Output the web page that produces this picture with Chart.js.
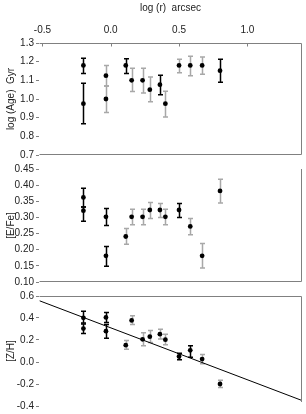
<!DOCTYPE html>
<html lang="en">
<head>
<meta charset="UTF-8">
<title>Radial profiles</title>
<script src="https://cdn.jsdelivr.net/npm/chart.js"></script>
<style>
  body { margin: 0; background: #fff; }
  #wrap { position: relative; width: 306px; height: 414px; overflow: hidden; }
  canvas { position: absolute; left: 0; }
</style>
</head>
<body>
<div id="wrap">
  <canvas id="agePanel" width="306" height="165" style="top:0"></canvas>
  <canvas id="efePanel" width="306" height="135" style="top:158px"></canvas>
  <canvas id="zhPanel" width="306" height="128" style="top:286px"></canvas>
</div>
<script>
// radius (log arcsec), shared by the three panels
const logR = [-0.20, -0.20, -0.035, -0.035, 0.11, 0.153, 0.233, 0.286, 0.36, 0.40, 0.50, 0.582, 0.669, 0.80];
const xTicks = [-0.5, 0.0, 0.5, 1.0];

// log(Age) Gyr
const ageVal = [1.18, 0.975, 1.125, 1.00, 1.18, 1.10, 1.10, 1.05, 1.077, 0.975, 1.18, 1.18, 1.18, 1.152];
const ageHi  = [1.218, 1.084, 1.18, 1.07, 1.215, 1.165, 1.165, 1.118, 1.127, 1.041, 1.213, 1.229, 1.225, 1.213];
const ageLo  = [1.137, 0.867, 1.07, 0.928, 1.137, 1.04, 1.032, 0.985, 1.023, 0.903, 1.14, 1.125, 1.132, 1.09];
const ageBar = ['k','k','g','g','k','g','g','g','k','g','g','g','g','k'];
const ageTicks = [0.7, 0.8, 0.9, 1.0, 1.1, 1.2, 1.3];

// [E/Fe]
const efeVal = [0.362, 0.321, 0.302, 0.181, 0.241, 0.302, 0.302, 0.323, 0.323, 0.302, 0.323, 0.272, 0.181, 0.382];
const efeHi  = [0.39, 0.332, 0.328, 0.21, 0.266, 0.325, 0.325, 0.346, 0.343, 0.325, 0.343, 0.297, 0.219, 0.418];
const efeLo  = [0.332, 0.288, 0.275, 0.149, 0.217, 0.277, 0.277, 0.297, 0.30, 0.277, 0.30, 0.246, 0.143, 0.345];
const efeBar = ['k','k','k','k','g','g','g','g','g','g','k','g','g','g'];
const efeTicks = [0.10, 0.15, 0.20, 0.25, 0.30, 0.35, 0.40, 0.45];

// [Z/H] and its linear fit
const zhVal = [0.402, 0.304, 0.405, 0.28, 0.153, 0.378, 0.206, 0.23, 0.253, 0.203, 0.05, 0.106, 0.027, -0.2];
const zhHi  = [0.461, 0.345, 0.449, 0.34, 0.195, 0.42, 0.266, 0.286, 0.298, 0.253, 0.08, 0.147, 0.068, -0.167];
const zhLo  = [0.355, 0.26, 0.36, 0.215, 0.117, 0.342, 0.147, 0.177, 0.209, 0.156, 0.02, 0.044, -0.015, -0.232];
const zhBar = ['k','k','k','k','g','g','g','g','g','g','k','k','g','g'];
const zhTicks = [-0.4, -0.2, 0.0, 0.2, 0.4, 0.6];
const fitX = [-0.52, 1.40];
const fitY = [0.556, -0.35];

const barColors = { k: '#000000', g: '#a8a8a8' };
const font = { family: 'Liberation Sans, Arial, sans-serif', size: 10 };
const textColor = '#222';
const frameColor = '#808080';

function errorBars(lo, hi, cols) {
    return {
        id: 'errorBars',
        beforeDatasetsDraw(chart) {
            const ctx = chart.ctx, xs = chart.scales.x, ys = chart.scales.y;
            ctx.save();
            ctx.lineWidth = 1.5;
            lo.forEach((l, i) => {
                const px = Math.round(xs.getPixelForValue(logR[i])) + 0.5;
                const top = ys.getPixelForValue(hi[i]);
                const bot = ys.getPixelForValue(l);
                ctx.strokeStyle = barColors[cols[i]];
                ctx.beginPath();
                ctx.moveTo(px, top); ctx.lineTo(px, bot);
                ctx.moveTo(px - 2.5, top); ctx.lineTo(px + 2.5, top);
                ctx.moveTo(px - 2.5, bot); ctx.lineTo(px + 2.5, bot);
                ctx.stroke();
            });
            ctx.restore();
        }
    };
}

function frame(sides) {
    return {
        id: 'frame',
        afterDraw(chart) {
            const ctx = chart.ctx, a = chart.chartArea;
            const l = Math.round(a.left) + 0.5, r = Math.round(a.right) - 0.5;
            const t = Math.round(a.top) + 0.5, b = Math.round(a.bottom) - 0.5;
            ctx.save();
            ctx.strokeStyle = frameColor;
            ctx.lineWidth = 1;
            ctx.beginPath();
            if (sides.top) { ctx.moveTo(l, t); ctx.lineTo(r, t); }
            if (sides.bottom) { ctx.moveTo(l, b); ctx.lineTo(r, b); }
            ctx.moveTo(r, sides.top ? t : a.top); ctx.lineTo(r, sides.bottom ? b : a.bottom - 4);
            if (sides.xticks) {
                xTicks.forEach(v => {
                    const px = Math.round(chart.scales.x.getPixelForValue(v)) + 0.5;
                    if (px > l + 2) { ctx.moveTo(px, t); ctx.lineTo(px, t + 3); }
                });
            }
            ctx.stroke();
            ctx.restore();
        }
    };
}

function makePanel(id, opt) {
    const datasets = [{
        data: logR.map((x, i) => ({ x: x, y: opt.values[i] })),
        pointRadius: 2.4,
        pointBackgroundColor: '#000',
        pointBorderWidth: 0
    }];
    if (opt.fit) {
        datasets.push({
            type: 'line',
            data: fitX.map((x, i) => ({ x: x, y: fitY[i] })),
            borderColor: '#000',
            borderWidth: 1,
            pointRadius: 0,
            fill: false
        });
    }
    return new Chart(document.getElementById(id), {
        type: 'scatter',
        data: { datasets: datasets },
        options: {
            responsive: false,
            animation: false,
            devicePixelRatio: 1,
            layout: { padding: opt.padding },
            plugins: { legend: { display: false }, tooltip: { enabled: false } },
            scales: {
                x: {
                    type: 'linear',
                    position: 'top',
                    display: opt.showX,
                    min: -0.525,
                    max: 1.40,
                    afterFit: s => { if (opt.showX) s.height = 43; },
                    afterBuildTicks: s => { s.ticks = xTicks.map(v => ({ value: v })); },
                    ticks: { callback: v => v.toFixed(1), padding: 7, maxRotation: 0, autoSkip: false, font: font, color: textColor },
                    grid: { display: false, drawTicks: false },
                    border: { display: false },
                    title: { display: true, text: 'log (r)  arcsec', font: font, color: textColor, padding: { top: 2, bottom: 0 } }
                },
                y: {
                    min: opt.ticks[0],
                    max: opt.ticks[opt.ticks.length - 1],
                    afterFit: s => { s.width = 39; },
                    afterBuildTicks: s => { s.ticks = opt.ticks.map(v => ({ value: v })); },
                    ticks: { callback: v => v.toFixed(opt.dec), padding: 2, autoSkip: false, font: font, color: textColor },
                    grid: { drawOnChartArea: false, tickLength: 3, color: frameColor },
                    border: { display: false },
                    title: { display: true, text: opt.title, font: font, color: textColor, padding: { top: 5, bottom: 0 } }
                }
            }
        },
        plugins: [errorBars(opt.lo, opt.hi, opt.bars), frame(opt.frame)]
    });
}

makePanel('agePanel', {
    values: ageVal, lo: ageLo, hi: ageHi, bars: ageBar, ticks: ageTicks, dec: 1,
    title: 'log (Age)  Gyr', showX: true,
    padding: { top: 0, right: 1, bottom: 10, left: 0 },
    frame: { top: true, bottom: true, xticks: true }
});
makePanel('efePanel', {
    values: efeVal, lo: efeLo, hi: efeHi, bars: efeBar, ticks: efeTicks, dec: 2,
    title: '[E/Fe]', showX: false,
    padding: { top: 11, right: 1, bottom: 11, left: 0 },
    frame: { top: false, bottom: true }
});
makePanel('zhPanel', {
    values: zhVal, lo: zhLo, hi: zhHi, bars: zhBar, ticks: zhTicks, dec: 1,
    title: '[Z/H]', showX: false, fit: true,
    padding: { top: 10, right: 1, bottom: 6, left: 0 },
    frame: { top: true, bottom: false }
});
</script>
</body>
</html>
